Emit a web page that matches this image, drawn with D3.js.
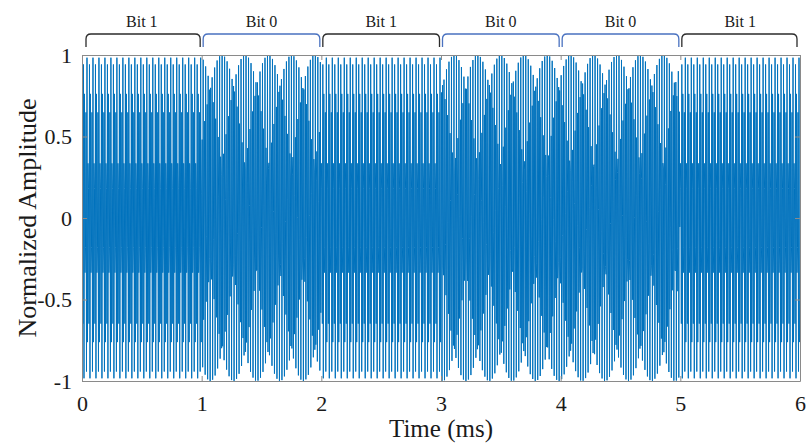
<!DOCTYPE html>
<html><head><script src="https://cdn.jsdelivr.net/npm/d3@7"></script>
<style>body{margin:0;background:#fff}</style></head>
<body><svg id="c" width="806" height="445"></svg>
<script>
// ---- data ----
const bits = [1, 0, 1, 0, 0, 1];                 // transmitted bit sequence, 1 ms each
const bitLabels = ["Bit 1", "Bit 0", "Bit 1", "Bit 0", "Bit 0", "Bit 1"];
const xTickValues = [0, 1, 2, 3, 4, 5, 6];
const yTickValues = [-1, -0.5, 0, 0.5, 1];
const yTickLabels = ["-1", "-0.5", "0", "0.5", "1"];
const sampleRate = 240000;                        // samples per second
const toneFreqBit1 = 100000;                      // Hz
const toneFreqBit0 = 94970;                       // Hz
const tonePhase = 0.342;                          // rad

// ---- build samples (carrier synthesis per bit) ----
const samples = [];
const perBit = sampleRate / 1000;
bits.forEach((b, i) => {
  const f = b === 1 ? toneFreqBit1 : toneFreqBit0;
  for (let k = 0; k < perBit; k++) {
    const t = (i * perBit + k) / sampleRate;
    samples.push({ t: t * 1000, v: Math.sin(2 * Math.PI * f * t + tonePhase) });
  }
});

// ---- layout ----
const W = 806, H = 445;
const m = { l: 82, r: 6, t: 55, b: 64 };
const svg = d3.select("#c");
const x = d3.scaleLinear().domain([0, 6]).range([m.l, W - m.r]);
const y = d3.scaleLinear().domain([-1, 1]).range([H - m.b, m.t]);
const serif = "'Liberation Serif','Times New Roman',serif";
const axisCol = "#8a8a8a";

svg.append("defs").append("clipPath").attr("id", "clip")
  .append("rect").attr("x", x(0)).attr("y", y(1)).attr("width", x(6) - x(0)).attr("height", y(-1) - y(1));

svg.append("path")
  .datum(samples)
  .attr("clip-path", "url(#clip)")
  .attr("d", d3.line().x(d => x(d.t)).y(d => y(d.v)))
  .attr("fill", "none").attr("stroke", "#0072BD").attr("stroke-width", 1.0);

// axes (ticks inward, mirrored)
const tl = 5;
const gb = svg.append("g").attr("transform", `translate(0,${y(-1)})`)
  .call(d3.axisBottom(x).tickValues(xTickValues).tickSizeInner(-tl).tickSizeOuter(0).tickPadding(14).tickFormat(d3.format("d")));
const gt = svg.append("g").attr("transform", `translate(0,${y(1)})`)
  .call(d3.axisTop(x).tickValues(xTickValues).tickSizeInner(-tl).tickSizeOuter(0).tickFormat(""));
const gl = svg.append("g").attr("transform", `translate(${x(0)},0)`)
  .call(d3.axisLeft(y).tickValues(yTickValues).tickSizeInner(-tl).tickSizeOuter(0).tickPadding(10)
    .tickFormat((d, i) => yTickLabels[i]));
const gr = svg.append("g").attr("transform", `translate(${x(6)},0)`)
  .call(d3.axisRight(y).tickValues(yTickValues).tickSizeInner(-tl).tickSizeOuter(0).tickFormat(""));
[gb, gt, gl, gr].forEach(g => {
  g.select(".domain").attr("stroke", axisCol).attr("stroke-width", 1);
  g.selectAll(".tick line").attr("stroke", axisCol).attr("stroke-width", 1);
  g.selectAll(".tick text").attr("font-family", serif).attr("font-size", 22).attr("fill", "#1a1a1a");
});

// axis labels
svg.append("text").attr("x", (x(0) + x(6)) / 2).attr("y", 437).attr("text-anchor", "middle")
  .attr("font-family", serif).attr("font-size", 25).attr("fill", "#1a1a1a").text("Time (ms)");
svg.append("text").attr("transform", `translate(36,${(y(1) + y(-1)) / 2}) rotate(-90)`).attr("text-anchor", "middle")
  .attr("font-family", serif).attr("font-size", 26).attr("fill", "#1a1a1a").text("Normalized Amplitude");

// braces and bit labels
const braceTop = 34, braceBot = 47, r = 5;
bits.forEach((b, i) => {
  const x0 = x(i) + (i === 0 ? 4 : 1.5), x1 = x(i + 1) - (i === bits.length - 1 ? 3 : 1.5);
  const col = b === 1 ? "#2b2b2b" : "#4a72c0";
  const p = d3.path();
  p.moveTo(x0, braceBot);
  p.lineTo(x0, braceTop + r);
  p.quadraticCurveTo(x0, braceTop, x0 + r, braceTop);
  p.lineTo(x1 - r, braceTop);
  p.quadraticCurveTo(x1, braceTop, x1, braceTop + r);
  p.lineTo(x1, braceBot);
  svg.append("path").attr("d", p.toString()).attr("fill", "none").attr("stroke", col).attr("stroke-width", 1.3);
  svg.append("text").attr("x", (x(i) + x(i + 1)) / 2).attr("y", 27).attr("text-anchor", "middle")
    .attr("font-family", serif).attr("font-size", 16).attr("fill", "#1a1a1a").text(bitLabels[i]);
});
</script></body></html>
